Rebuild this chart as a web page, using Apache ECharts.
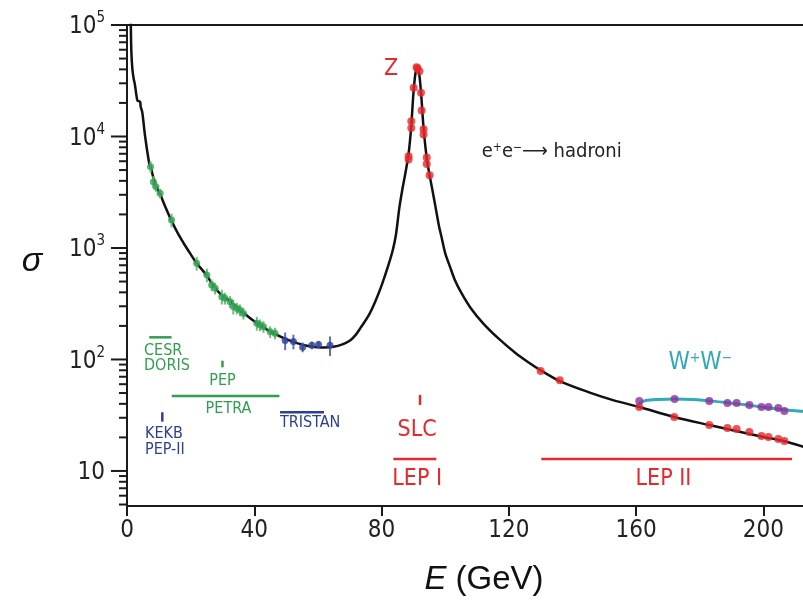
<!DOCTYPE html>
<html><head><meta charset="utf-8">
<script src="https://cdn.jsdelivr.net/npm/echarts@6/dist/echarts.min.js"></script>
<style>html,body{margin:0;padding:0;background:#fff}#c{width:803px;height:603px}</style>
</head><body><div id="c"></div>
<script>
// ---------- data (E in GeV, sigma in pb) ----------
const curveE = [1.15,1.25,1.4,1.7,2.1,2.5,3.0,3.3,4.1,4.3,4.8,5.7,7.0,7.4,8.8,10.4,12,14.0,16,18,20,21.9,25.1,27.1,30,32.4,35,37.5,40.8,44,47.1,50,53.4,56.5,59.7,62,64.9,67.5,70.1,72,73.3,76,78,80,82,83.5,84.5,85.6,86.5,87.5,88.5,89.3,90,90.6,91.2,91.8,92.4,93.2,94.2,95.1,96,97,98,99,100,101.5,103,105,108,112,117,122,126,130,136,145,153,161,172,183,190,200,207,213,220];
const curveSigma = [130000,80000,55000,40000,33000,29000,23000,21000,20500,18500,16500,10000,5700,5360,3800,3050,2350,1750,1350,1080,880,730,565,460,370,335,285,250,212,185,166,152,140,133,129,128,130,136,148,168,190,250,330,460,680,950,1300,2300,3300,4700,7000,12000,24000,36000,42200,37000,25000,12000,6400,4500,3300,2300,1600,1200,900,680,520,400,290,210,152,115,95,80,64,51,43,37.5,30.5,25.8,23.3,20.2,18.4,16.4,15.3];

const wwE = [161,163,167,172,178,184,190,195,200,205,211,216,220];
const wwSigma = [40.5,42.8,43.8,44.3,43.8,42.3,40.5,39,37.3,35.8,34.5,33.8,33.2];

const greenE = [7.4,8.3,9.1,10.4,14.0,21.9,25.1,26.6,27.7,29.8,30.8,32.4,33.4,34.5,35.5,36.6,40.8,41.8,42.9,45.0,46.5];
const greenSigma = [5360,3930,3550,3090,1780,730,573,466,435,366,354,330,298,288,278,259,211,204,197,177,172];
const greenErrPct = [12,12,10,10,14,14,14,12,12,15,12,12,15,12,12,12,14,12,12,12,12];

const blueE = [49.7,52.3,55.2,58.1,60.2,63.8];
const blueSigma = [148,145,129,134,136,134];
const blueErrPct = [18,15,10,8,8,20];

const zE = [91.0,91.3,91.9,90.1,89.35,89.35,88.5,88.5,92.4,92.6,93.2,93.2,94.2,94.2,95.1];
const zSigma = [41800,41000,38500,27400,13700,11900,6650,6220,24700,17100,11600,10400,6480,5660,4480];

const lep2E = [130,136,161,172,183,188.7,191.6,195.6,199.4,201.6,204.7,206.6];
const lep2Sigma = [79,65,37.5,30.5,25.9,24.3,23.8,22.4,20.6,20.2,19.4,18.6];

const wwPtsE = [161,172.1,183,188.7,191.6,195.6,199.4,201.6,204.7,206.6];
const wwPtsSigma = [42.5,44.3,42.5,40.7,40.7,39.1,37.5,37.5,36.7,34.5];

const xTicks = [0,40,80,120,160,200];
const yMajorTicks = [10,100,1000,10000,100000];
const yMinorTicks = [5,6,7,8,9,20,30,40,50,60,70,80,90,200,300,400,500,600,700,800,900,2000,3000,4000,5000,6000,7000,8000,9000,20000,30000,40000,50000,60000,70000,80000,90000];

// ---------- styling ----------
const NARROW = "'Liberation Sans Narrow','DejaVu Sans Condensed','Arial Narrow',sans-serif";
const GREEN = '#2f9e4f', GREEN_L = '#6cc07a', BLUE = '#2e3f92', RED = '#e8282b', CYAN = '#33a9b5', PURPLE = '#8b2f9c', INK = '#1a1a1a';

const annotations = [
  {kind:'h', x1:7.0, x2:14.0, y:158, color:GREEN},
  {kind:'t', x:5.35, y:119, text:'CESR', color:GREEN, size:16, align:'left'},
  {kind:'t', x:5.35, y:87.5, text:'DORIS', color:GREEN, size:16, align:'left'},
  {kind:'v', x:30, y1:85, y2:97.5, color:GREEN},
  {kind:'t', x:30, y:64, text:'PEP', color:GREEN, size:16, align:'center'},
  {kind:'h', x1:14.06, x2:47.9, y:47.1, color:GREEN},
  {kind:'t', x:31.9, y:35.9, text:'PETRA', color:GREEN, size:16, align:'center'},
  {kind:'v', x:11.1, y1:27.7, y2:33.6, color:BLUE},
  {kind:'t', x:5.66, y:21.5, text:'KEKB', color:BLUE, size:16, align:'left'},
  {kind:'t', x:5.66, y:15.6, text:'PEP-II', color:BLUE, size:16, align:'left'},
  {kind:'h', x1:48.1, x2:61.9, y:33.6, color:BLUE},
  {kind:'t', x:48.1, y:26.9, text:'TRISTAN', color:BLUE, size:16, align:'left'},
  {kind:'v', x:92.1, y1:39.1, y2:48.1, color:RED},
  {kind:'t', x:91.2, y:23.3, text:'SLC', color:RED, size:23, align:'center'},
  {kind:'h', x1:83.7, x2:97.2, y:12.8, color:RED},
  {kind:'t', x:91.2, y:8.47, text:'LEP I', color:RED, size:23, align:'center'},
  {kind:'h', x1:130.2, x2:209.0, y:12.8, color:RED},
  {kind:'t', x:168.6, y:8.47, text:'LEP II', color:RED, size:23, align:'center'},
  {kind:'t', x:83.0, y:40300, text:'Z', color:RED, size:23, align:'center'},
  {kind:'t', x:111.5, y:7260, text:'e{s|+}e{s|\u2212}\u27F6 hadroni', color:'#222', size:20, align:'left'},
  {kind:'t', x:180.2, y:93.1, text:'W{s|+}W{s|\u2212}', color:CYAN, size:24, align:'center'}
];

function zip(a, b) { return a.map((v, i) => [v, b[i]]); }
function errData(E, S, P) { return E.map((e, i) => [e, S[i] * (1 - P[i] / 100), S[i] * (1 + P[i] / 100)]); }

const chart = echarts.init(document.getElementById('c'), null, {renderer: 'canvas'});

const option = {
  animation: false,
  backgroundColor: '#fff',
  grid: {left: 127, top: 25, right: -24, bottom: 97, containLabel: false, outerBoundsMode: 'none'},
  xAxis: [{
    type: 'value', min: 0, max: 220, interval: 40,
    axisLine: {onZero: false, lineStyle: {color: INK, width: 2}},
    axisTick: {length: 10, lineStyle: {color: INK, width: 2}},
    axisLabel: {fontSize: 24, fontFamily: NARROW, color: '#222', margin: 13,
      formatter: v => xTicks.indexOf(v) >= 0 ? String(v) : ''},
    splitLine: {show: false}
  }, {
    type: 'value', position: 'top', min: 0, max: 220,
    axisLine: {show: true, onZero: false, lineStyle: {color: INK, width: 2}},
    axisTick: {show: false}, axisLabel: {show: false}, splitLine: {show: false}
  }],
  yAxis: {
    type: 'log', logBase: 10, min: 4.85, max: 100000,
    axisLine: {show: true, onZero: false, lineStyle: {color: INK, width: 2}},
    axisTick: {show: false},
    splitLine: {show: false},
    axisLabel: {
      margin: 22, color: '#222', fontFamily: NARROW,
      formatter: function (v) {
        const l = Math.log10(v), r = Math.round(l);
        if (Math.abs(l - r) > 1e-6 || yMajorTicks.indexOf(Math.pow(10, r)) < 0) return '';
        if (r === 1) return '{b|10}';
        return '{b|10}{s|' + r + '}';
      },
      rich: {
        b: {fontSize: 24, fontFamily: NARROW, color: '#222', lineHeight: 28, verticalAlign: 'bottom'},
        s: {fontSize: 15, fontFamily: NARROW, color: '#222', lineHeight: 16, verticalAlign: 'top'}
      }
    }
  },
  graphic: [
    {type: 'text', x: 32, y: 262, style: {text: '\u03C3', font: 'italic 34px "Liberation Sans", Arial, sans-serif', fill: '#111', align: 'center', verticalAlign: 'middle'}},
    {type: 'text', x: 484, y: 580, style: {text: '{i|E} (GeV)', font: '33px "Liberation Sans", Arial, sans-serif', fill: '#111', align: 'center', verticalAlign: 'middle',
      rich: {i: {font: 'italic 33px "Liberation Sans", Arial, sans-serif', fill: '#111'}}}}
  ],
  series: [
    {type: 'line', name: 'hadrons', data: zip(curveE, curveSigma), showSymbol: false, smooth: 0.3,
      lineStyle: {color: '#111', width: 2.5}, clip: true, z: 2, silent: true},
    {type: 'line', name: 'WW', data: zip(wwE, wwSigma), showSymbol: false, smooth: 0.3,
      lineStyle: {color: CYAN, width: 3}, clip: true, z: 2, silent: true},
    {type: 'custom', name: 'greenErr', data: errData(greenE, greenSigma, greenErrPct), encode: {x: 0, y: [1, 2]}, z: 3,
      renderItem: (p, api) => { const a = api.coord([api.value(0), api.value(1)]), b = api.coord([api.value(0), api.value(2)]);
        return {type: 'line', shape: {x1: a[0], y1: a[1], x2: b[0], y2: b[1]}, style: {stroke: GREEN_L, lineWidth: 2}}; }},
    {type: 'custom', name: 'blueErr', data: errData(blueE, blueSigma, blueErrPct), encode: {x: 0, y: [1, 2]}, z: 3,
      renderItem: (p, api) => { const a = api.coord([api.value(0), api.value(1)]), b = api.coord([api.value(0), api.value(2)]);
        return {type: 'line', shape: {x1: a[0], y1: a[1], x2: b[0], y2: b[1]}, style: {stroke: '#5a6fc0', lineWidth: 2}}; }},
    {type: 'scatter', name: 'green', data: zip(greenE, greenSigma), symbolSize: 7, itemStyle: {color: GREEN}, z: 4},
    {type: 'scatter', name: 'blue', data: zip(blueE, blueSigma), symbolSize: 7, itemStyle: {color: BLUE}, z: 4},
    {type: 'scatter', name: 'Z', data: zip(zE, zSigma), symbolSize: 8, itemStyle: {color: RED}, z: 4},
    {type: 'scatter', name: 'LEP2', data: zip(lep2E, lep2Sigma), symbolSize: 8, itemStyle: {color: RED}, z: 4},
    {type: 'scatter', name: 'WWpts', data: zip(wwPtsE, wwPtsSigma), symbolSize: 8, itemStyle: {color: PURPLE}, z: 4},
    {type: 'custom', name: 'yticks', clip: false, z: 5, silent: true,
      data: yMajorTicks.map(v => [0, v, 1]).concat(yMinorTicks.map(v => [0, v, 0])), encode: {x: 0, y: 1},
      renderItem: (p, api) => { const c = api.coord([api.value(0), api.value(1)]); const len = api.value(2) ? 16 : 8;
        return {type: 'line', shape: {x1: c[0] - len, y1: c[1], x2: c[0], y2: c[1]}, style: {stroke: INK, lineWidth: 2}}; }},
    {type: 'custom', name: 'annotations', clip: false, z: 6, silent: true,
      data: annotations.map((a, i) => [0, 10, i]), encode: {x: 0, y: 1},
      renderItem: (p, api) => {
        const a = annotations[p.dataIndex];
        if (a.kind === 'h') { const s = api.coord([a.x1, a.y]), e = api.coord([a.x2, a.y]);
          return {type: 'line', shape: {x1: s[0], y1: s[1], x2: e[0], y2: e[1]}, style: {stroke: a.color, lineWidth: 2.5}}; }
        if (a.kind === 'v') { const s = api.coord([a.x, a.y1]), e = api.coord([a.x, a.y2]);
          return {type: 'line', shape: {x1: s[0], y1: s[1], x2: e[0], y2: e[1]}, style: {stroke: a.color, lineWidth: 2.5}}; }
        const c = api.coord([a.x, a.y]);
        return {type: 'text', x: c[0], y: c[1], style: {text: a.text, fill: a.color, fontSize: a.size, fontFamily: NARROW,
          align: a.align, verticalAlign: 'middle',
          rich: {s: {fontSize: Math.round(a.size * 0.6), fontFamily: NARROW, fill: a.color, verticalAlign: 'top', lineHeight: Math.round(a.size * 0.7)}}}};
      }}
  ]
};
chart.setOption(option);
</script>
</body></html>
